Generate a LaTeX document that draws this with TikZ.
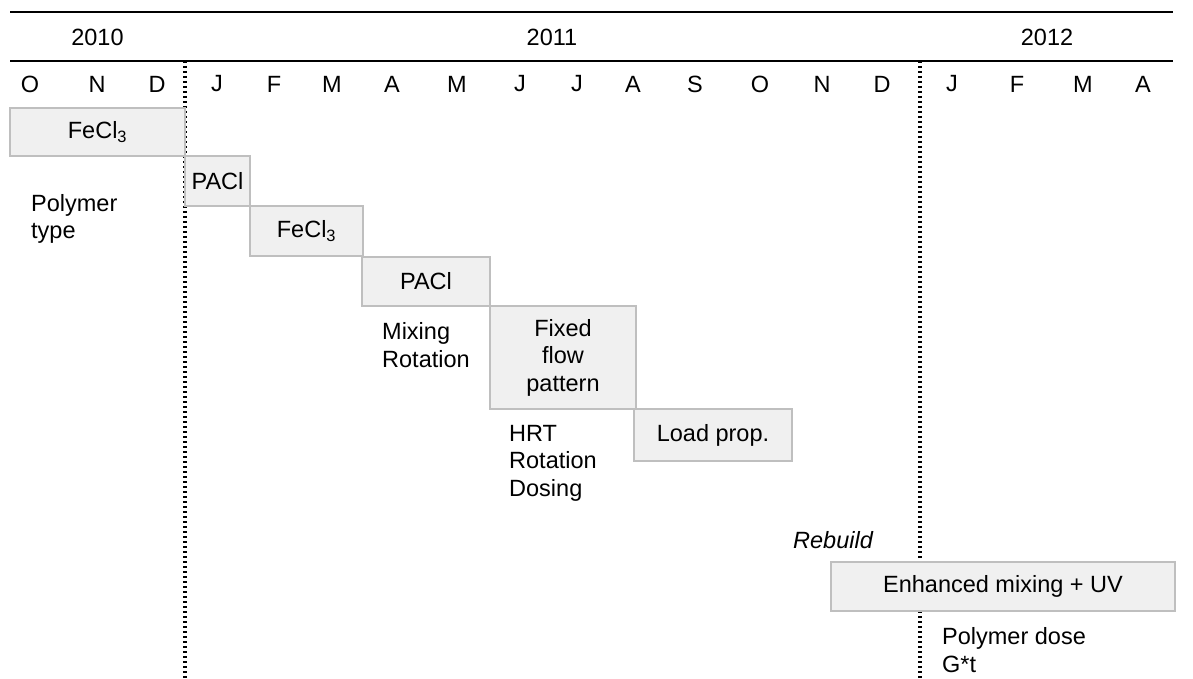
\documentclass[tikz,border=0pt]{standalone}
\usepackage{fontspec}
\setmainfont{Liberation Sans}
\usepackage{xcolor}
\usepackage{tikz}
\usetikzlibrary{calc, positioning}

\begin{document}
\begin{tikzpicture}[x=1pt, y=-1pt,
    font=\fontsize{23.5}{27.5}\selectfont,
    phase/.style={draw=gray!50, fill=gray!12, line width=2.7pt, inner sep=0pt, align=center},
    note/.style={anchor=west, align=left, inner sep=0pt},
    divider/.style={line width=3.5pt, dash pattern=on 1.7pt off 3.3pt}]
    \useasboundingbox (0,0) rectangle (1193,679);

    % Vẽ thanh tiêu đề
    \draw[line width=2.7pt] (10,12) -- (1173,12);
    \draw[line width=2.7pt] (10,61) -- (1173,61);
    \node (y2010) at (97.5,37) {2010};
    \node (y2011) at (552,37) {2011};
    \node (y2012) at (1047,37) {2012};

    % Các tháng
    \foreach \x/\m [count=\i] in {30/O, 97/N, 157/D, 217/J, 274/F, 332/M, 392/A, 457/M,
        520/J, 577/J, 633/A, 695/S, 760/O, 822/N, 882/D, 952/J, 1017/F, 1083/M, 1143/A} {
        \node (m\i) at (\x,84) {\m};
    }

    % Đường chia năm
    \draw[divider] (185,61) -- (185,679);
    \draw[divider] (920,61) -- (920,679);

    % Vẽ các khung
    \node[phase, minimum width=175, minimum height=48] (fe1) at (97.5,132) {FeCl\textsubscript{3}};
    \node[phase, minimum width=65, minimum height=50] (pac1) at (217.5,181) {PACl};
    \node[phase, minimum width=113, minimum height=50] (fe2) at (306.5,231) {FeCl\textsubscript{3}};
    \node[phase, minimum width=128, minimum height=49] (pac2) at (426,281.5) {PACl};
    \node[phase, minimum width=146, minimum height=103] (flow) at (563,357.5) {Fixed\\flow\\pattern};
    \node[phase, minimum width=158, minimum height=52] (load) at (713,435) {Load prop.};
    \node[phase, minimum width=344, minimum height=49] (uv) at (1003,586.5) {Enhanced mixing + UV};

    % Ghi chú
    \node[note] (poly) at (31,219) {Polymer\\type};
    \node[note] (mix) at (382,345) {Mixing\\Rotation};
    \node[note] (hrt) at (509,463) {HRT\\Rotation\\Dosing};
    \node[font=\fontsize{23.5}{27.5}\selectfont\itshape] (rebuild) at (833,540) {Rebuild};
    \node[note] (dose) at (942,650) {Polymer dose\\G*t};
\end{tikzpicture}
\end{document}
